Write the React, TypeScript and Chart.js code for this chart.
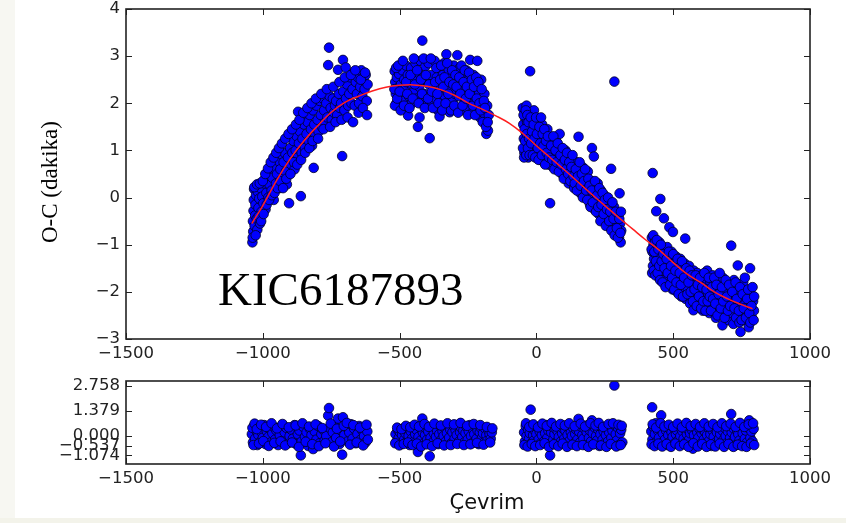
import React, { useEffect, useRef } from "react";
import { Chart, registerables } from "chart.js";
Chart.register(...registerables);

// ---------- data ----------
const xTickValues = [-1500, -1000, -500, 0, 500, 1000];
const ocTickValues = [-3, -2, -1, 0, 1, 2, 3, 4];
const resTickValues = [-1.074, -0.537, 0, 1.379, 2.758];

const fitCycle = [-1040, -1000, -950, -900, -850, -800, -750, -700, -650, -600, -550, -500, -450, -400, -350, -300, -250, -200, -150, -100, -50, 0, 50, 100, 150, 200, 250, 300, 350, 400, 450, 500, 550, 600, 650, 700, 750, 790];
const fitOC = [-0.55, -0.17, 0.36, 0.82, 1.2, 1.52, 1.81, 2.02, 2.15, 2.26, 2.34, 2.38, 2.39, 2.36, 2.29, 2.17, 2.01, 1.88, 1.74, 1.58, 1.36, 1.1, 0.85, 0.6, 0.34, 0.08, -0.17, -0.42, -0.66, -0.9, -1.12, -1.38, -1.62, -1.8, -2.0, -2.15, -2.27, -2.36];

const ocSeg1: [number, number][] = [
  [-1038, -0.95], [-1035, -0.72], [-1036, -0.5], [-1034, -0.28], [-1033, -0.05], [-1032, 0.18], [-1030, -0.6], [-1028, -0.38], [-1027, -0.15], [-1025, 0.05], [-1022, -0.45], [-1020, -0.68], [-1018, 0.12], [-1016, -0.22], [-1013, -0.02], [-1010, -0.55], [-1008, 0.2], [-1005, -0.3], [-1002, 0.02], [-998, -0.12], [-995, 0.3], [-993, 0.38], [-990, -0.25], [-987, 0.1], [-984, 0.45], [-980, 0.0], [-976, 0.28], [-972, 0.55], [-968, 0.15], [-965, 0.42], [-960, -0.05], [-956, 0.62], [-952, 0.3], [-948, 0.5], [-944, 0.78], [-940, 0.2], [-936, 0.6], [-932, 0.92], [-928, 0.4], [-924, 0.75], [-920, 0.95], [-916, 0.55], [-912, 0.28], [-908, 0.85], [-904, -0.12], [-900, 1.05], [-896, 0.7], [-892, 0.95], [-888, 1.2], [-884, 0.6], [-880, 1.0], [-876, 1.3], [-872, 0.85], [-871, 1.82], [-868, 1.15], [-864, 1.4], [-861, 0.03], [-858, 0.95], [-855, 1.25], [-850, 1.55], [-846, 1.05], [-841, 1.73], [-840, 1.35], [-836, 1.6], [-832, 1.2], [-828, 1.75], [-824, 1.45], [-820, 1.1], [-816, 1.85], [-814, 0.63], [-812, 1.55], [-808, 1.3], [-804, 1.95], [-800, 1.65], [-796, 1.4], [-792, 2.05], [-788, 1.75], [-784, 1.5], [-780, 2.1], [-776, 1.85], [-772, 1.6], [-768, 2.0], [-764, 1.7], [-761, 2.81], [-758, 3.18], [-756, 2.15], [-752, 1.9], [-748, 1.65], [-744, 2.1], [-740, 1.8], [-736, 1.95], [-732, 2.05], [-728, 1.75], [-725, 2.71], [-722, 2.2], [-718, 1.9], [-714, 2.0], [-710, 0.88], [-707, 2.92], [-706, 2.25], [-702, 1.85], [-697, 2.76], [-696, 2.1], [-692, 2.4], [-688, 1.95], [-684, 2.2], [-680, 2.55], [-676, 2.0], [-672, 2.3], [-668, 2.65], [-664, 1.95], [-660, 2.45], [-656, 2.2], [-652, 2.55], [-648, 2.0], [-644, 2.35], [-640, 2.7], [-636, 2.15], [-632, 2.5], [-628, 2.3], [-624, 2.6], [-620, 2.05], [-617, 2.4],
  [-1037, -0.85], [-1031, 0.22], [-1026, -0.8], [-1021, 0.28], [-1015, -0.4], [-1011, 0.3], [-1006, -0.5], [-1000, 0.35], [-997, -0.35], [-991, 0.5], [-986, -0.15], [-981, 0.62], [-977, -0.05], [-971, 0.75], [-967, 0.05], [-961, 0.85], [-957, 0.1], [-951, 0.95], [-946, 0.2], [-941, 1.05], [-937, 0.35], [-930, 1.15], [-926, 0.2], [-918, 1.25], [-914, 0.4], [-906, 1.35], [-899, 0.5], [-893, 1.45], [-886, 0.75], [-879, 1.55], [-874, 0.7], [-866, 1.65], [-860, 0.8], [-852, 1.8], [-845, 0.95], [-837, 1.9], [-830, 1.05], [-822, 2.0], [-818, 1.2], [-806, 2.1], [-798, 1.25], [-786, 2.2], [-778, 1.45], [-766, 2.3], [-754, 1.5], [-742, 2.35], [-734, 1.6], [-720, 2.45], [-712, 1.65], [-700, 2.55], [-690, 1.7], [-678, 2.6], [-670, 1.6], [-662, 2.7], [-650, 1.8], [-642, 2.5], [-634, 1.9], [-626, 2.65], [-619, 1.75],
];

const ocSeg2: [number, number][] = [
  [-518, 2.68], [-516, 2.45], [-514, 2.2], [-512, 2.0], [-510, 2.55], [-507, 2.32], [-504, 2.1], [-502, 2.62], [-498, 1.95], [-495, 2.4], [-492, 2.2], [-490, 2.7], [-486, 2.05], [-483, 2.5], [-480, 2.3], [-477, 2.8], [-474, 1.9], [-470, 2.6], [-469, 1.74], [-466, 2.15], [-462, 2.42], [-458, 2.75], [-455, 2.0], [-450, 2.55], [-446, 2.25], [-442, 2.85], [-438, 2.1], [-433, 1.5], [-432, 2.65], [-428, 2.35], [-427, 1.7], [-424, 2.9], [-420, 2.05], [-417, 3.33], [-415, 2.55], [-410, 2.2], [-406, 2.78], [-402, 1.95], [-398, 2.45], [-394, 2.85], [-390, 1.26], [-389, 2.15], [-385, 2.6], [-380, 2.0], [-376, 2.35], [-372, 2.9], [-368, 2.1], [-364, 2.55], [-360, 1.85], [-356, 2.75], [-354, 1.72], [-350, 2.3], [-346, 2.0], [-342, 2.6], [-338, 2.85], [-334, 2.15], [-329, 3.04], [-328, 2.45], [-324, 1.95], [-320, 2.7], [-317, 1.81], [-314, 2.3], [-310, 2.55], [-306, 2.05], [-302, 2.8], [-298, 2.2], [-294, 1.9], [-289, 3.02], [-288, 2.5], [-284, 2.15], [-280, 2.75], [-276, 1.85], [-272, 2.4], [-268, 2.6], [-264, 2.0], [-260, 2.3], [-256, 2.7], [-252, 1.9], [-248, 2.5], [-242, 2.92], [-241, 2.1], [-238, 2.35], [-234, 1.8], [-230, 2.6], [-226, 2.15], [-222, 2.4], [-216, 2.9], [-214, 1.95], [-210, 2.25], [-206, 1.7], [-202, 2.5], [-198, 2.05], [-194, 1.8], [-190, 2.2], [-186, 1.6], [-183, 1.35], [-180, 1.95], [-177, 1.42], [-174, 1.75],
  [-519, 2.3], [-517, 1.95], [-513, 2.75], [-509, 2.1], [-505, 2.8], [-500, 2.25], [-496, 1.85], [-488, 2.9], [-484, 1.95], [-476, 2.45], [-472, 2.2], [-464, 1.9], [-460, 2.6], [-452, 2.1], [-448, 2.95], [-444, 2.4], [-436, 2.7], [-430, 2.0], [-422, 2.5], [-418, 2.2], [-412, 2.95], [-408, 1.9], [-404, 2.6], [-396, 2.1], [-392, 2.4], [-386, 2.95], [-382, 2.25], [-378, 1.9], [-370, 2.45], [-366, 2.75], [-362, 2.2], [-358, 2.0], [-352, 2.5], [-348, 2.8], [-344, 1.85], [-340, 2.35], [-336, 2.55], [-332, 2.0], [-326, 2.85], [-322, 2.2], [-318, 2.45], [-312, 1.85], [-308, 2.7], [-304, 2.4], [-300, 1.95], [-296, 2.6], [-292, 2.35], [-286, 1.8], [-282, 2.55], [-278, 2.2], [-274, 2.8], [-270, 1.95], [-266, 2.45], [-262, 2.7], [-258, 2.1], [-254, 2.35], [-250, 1.75], [-246, 2.65], [-244, 2.2], [-236, 2.5], [-232, 1.95], [-228, 2.35], [-224, 1.75], [-220, 2.55], [-218, 2.1], [-212, 2.45], [-208, 2.0], [-204, 1.85], [-200, 2.3], [-196, 1.6], [-192, 2.05], [-188, 1.9], [-184, 1.5], [-178, 1.6],
];

const ocSeg3: [number, number][] = [
  [-50, 1.9], [-48, 1.55], [-46, 1.25], [-44, 0.95], [-42, 1.7], [-40, 1.4], [-38, 1.1], [-36, 1.95], [-34, 1.6], [-32, 1.3], [-30, 0.85], [-28, 1.5], [-26, 1.75], [-23, 2.68], [-22, 1.2], [-20, 1.45], [-18, 1.0], [-15, 1.65], [-12, 1.3], [-9, 1.85], [-6, 1.05], [-3, 1.5], [0, 1.25], [3, 0.95], [6, 1.6], [9, 1.15], [12, 1.4], [15, 0.8], [18, 1.25], [21, 1.55], [24, 1.0], [27, 0.75], [30, 1.3], [33, 1.1], [36, 0.9], [40, 1.45], [44, 0.7], [48, 1.15], [50, -0.12], [52, 0.95], [56, 1.25], [60, 0.65], [64, 1.05], [68, 0.85], [72, 1.2], [76, 0.6], [80, 0.95], [85, 1.35], [86, 0.75], [90, 1.05], [94, 0.5], [98, 0.85], [102, 0.65], [106, 1.0], [110, 0.45], [114, 0.8], [118, 0.3], [122, 0.6], [126, 0.85], [130, 0.4], [134, 0.7], [138, 0.2], [142, 0.5], [146, 0.75], [150, 0.3], [154, 1.29], [155, 0.55], [160, 0.1], [164, 0.4], [168, 0.65], [172, 0.2], [176, 0.45], [180, 0.0], [184, 0.3], [188, 0.55], [192, 0.1], [196, -0.15], [200, 0.35], [203, 1.05], [204, 0.0], [208, 0.2], [210, 0.87], [212, -0.25], [216, 0.1], [220, -0.1], [224, 0.3], [228, -0.35], [232, -0.05], [236, 0.15], [240, -0.45], [244, -0.2], [248, 0.05], [252, -0.3], [256, -0.55], [260, -0.1], [264, -0.4], [268, -0.15], [272, -0.65], [273, 0.61], [276, -0.3], [280, -0.5], [284, -0.2], [285, 2.46], [288, -0.75], [292, -0.45], [296, -0.6], [300, -0.35], [302, -0.85], [304, 0.09], [306, -0.55], [308, -0.95], [310, -0.7],
  [-49, 1.05], [-47, 1.75], [-45, 0.85], [-43, 1.45], [-41, 1.2], [-39, 1.85], [-37, 0.9], [-35, 1.35], [-33, 1.75], [-31, 1.05], [-29, 1.6], [-27, 1.25], [-25, 0.9], [-21, 1.7], [-19, 1.15], [-16, 1.4], [-13, 0.9], [-10, 1.55], [-7, 1.25], [-4, 0.85], [-1, 1.7], [2, 1.35], [5, 1.05], [8, 0.8], [11, 1.5], [14, 1.15], [17, 1.7], [20, 0.9], [23, 1.35], [26, 1.1], [29, 1.45], [32, 0.7], [35, 1.2], [38, 0.95], [42, 1.3], [46, 0.85], [54, 1.1], [58, 0.8], [62, 1.3], [66, 0.6], [70, 1.0], [74, 0.75], [78, 1.15], [82, 0.55], [88, 0.9], [92, 0.7], [96, 1.05], [100, 0.4], [104, 0.8], [108, 0.6], [112, 0.95], [116, 0.5], [120, 0.75], [124, 0.35], [128, 0.65], [132, 0.9], [136, 0.45], [140, 0.3], [144, 0.6], [148, 0.15], [152, 0.45], [158, 0.75], [162, 0.25], [166, 0.5], [170, 0.0], [174, 0.35], [178, 0.6], [182, 0.15], [186, -0.05], [190, 0.4], [194, 0.25], [198, -0.2], [202, 0.15], [206, -0.1], [214, 0.35], [218, -0.3], [222, 0.05], [226, -0.2], [230, 0.2], [234, -0.5], [238, -0.15], [242, 0.1], [246, -0.35], [250, -0.05], [254, -0.6], [258, -0.25], [262, 0.0], [266, -0.5], [270, -0.3], [274, -0.7], [278, -0.1], [282, -0.45], [286, -0.8], [290, -0.3], [294, -0.65], [298, -0.85], [303, -0.45], [307, -0.75], [309, -0.3],
];

const ocSeg4: [number, number][] = [
  [422, -0.85], [424, -1.15], [425, 0.52], [426, -1.45], [428, -1.0], [430, -1.3], [432, -1.6], [434, -0.9], [436, -1.2], [438, -0.29], [439, -1.5], [442, -1.05], [445, -1.35], [448, -1.7], [450, -0.95], [453, -0.03], [454, -1.25], [457, -1.55], [460, -1.1], [463, -1.4], [466, -0.44], [467, -1.75], [470, -1.2], [474, -1.5], [478, -1.05], [482, -1.85], [486, -0.63], [487, -1.3], [490, -1.6], [494, -1.15], [498, -1.95], [499, -0.73], [502, -1.4], [506, -1.7], [510, -1.25], [514, -2.0], [518, -1.5], [522, -1.8], [526, -1.3], [530, -2.1], [534, -1.6], [538, -1.9], [542, -1.4], [544, -0.87], [546, -2.15], [550, -1.7], [554, -1.95], [558, -1.45], [562, -2.25], [566, -1.75], [570, -2.0], [574, -2.39], [575, -1.55], [580, -1.85], [584, -2.1], [588, -1.6], [592, -2.3], [596, -1.9], [600, -2.15], [604, -1.65], [608, -2.4], [612, -2.0], [616, -1.75], [620, -2.25], [624, -1.55], [628, -2.05], [632, -2.45], [636, -1.8], [640, -2.2], [644, -1.65], [648, -2.35], [652, -1.95], [656, -2.55], [660, -2.1], [664, -1.75], [668, -2.4], [672, -2.0], [676, -2.25], [680, -2.71], [681, -1.7], [685, -2.5], [690, -2.05], [694, -1.8], [698, -2.35], [702, -2.6], [706, -2.15], [710, -1.9], [712, -1.02], [714, -2.45], [718, -2.25], [720, -2.68], [722, -1.75], [726, -2.05], [730, -2.55], [734, -2.3], [736, -1.44], [738, -1.95], [742, -2.65], [746, -2.85], [748, -2.15], [752, -2.4], [756, -1.8], [760, -2.6], [764, -2.25], [768, -2.0], [772, -2.5], [776, -2.75], [780, -2.3], [781, -1.5], [784, -2.05], [788, -2.55], [792, -2.2], [795, -2.4],
  [421, -1.1], [423, -1.6], [427, -0.8], [429, -1.55], [431, -1.15], [433, -0.95], [435, -1.65], [437, -1.35], [440, -0.9], [443, -1.6], [446, -1.1], [449, -1.45], [452, -1.75], [455, -1.0], [458, -1.35], [461, -1.8], [464, -1.2], [468, -1.5], [472, -1.9], [476, -1.3], [480, -1.6], [484, -1.15], [488, -1.85], [492, -1.45], [496, -1.7], [500, -1.2], [504, -1.95], [508, -1.55], [512, -1.8], [516, -1.3], [520, -2.05], [524, -1.6], [528, -1.85], [532, -1.35], [536, -2.1], [540, -1.7], [548, -1.5], [552, -2.05], [556, -1.8], [560, -1.55], [564, -2.0], [568, -1.65], [572, -2.2], [578, -1.95], [582, -1.65], [586, -2.3], [590, -1.85], [594, -2.1], [598, -1.7], [602, -2.35], [606, -1.9], [610, -2.2], [614, -1.6], [618, -2.4], [622, -1.95], [626, -2.2], [630, -1.7], [634, -2.1], [638, -2.4], [642, -1.9], [646, -2.15], [650, -1.7], [654, -2.25], [658, -1.85], [662, -2.5], [666, -2.05], [670, -1.6], [674, -2.35], [678, -1.9], [683, -2.2], [688, -2.55], [692, -1.75], [696, -2.1], [700, -2.4], [704, -1.85], [708, -2.3], [716, -2.0], [724, -2.35], [728, -1.8], [732, -2.15], [740, -2.4], [744, -1.9], [750, -2.6], [754, -2.05], [758, -2.35], [762, -1.7], [766, -2.55], [770, -2.15], [774, -1.95], [778, -2.45], [782, -2.65], [786, -2.3], [790, -1.9], [794, -2.6], [796, -2.1],
];

const resSeg1: [number, number][] = [
  [-1040, 0.1], [-1036, -0.35], [-1032, 0.55], [-1028, -0.15], [-1024, 0.3], [-1020, -0.5], [-1016, 0.05], [-1012, 0.45], [-1008, -0.3], [-1004, 0.2], [-1000, -0.1], [-995, 0.6], [-990, -0.45], [-985, 0.25], [-980, -0.05], [-975, 0.4], [-970, -0.35], [-965, 0.15], [-960, 0.5], [-955, -0.2], [-950, 0.3], [-944, -0.5], [-938, 0.05], [-932, 0.55], [-926, -0.25], [-920, 0.2], [-914, 0.45], [-908, -0.4], [-902, 0.0], [-896, 0.35], [-890, -0.15], [-884, 0.6], [-878, -0.45], [-872, 0.1], [-866, 0.3], [-861, -1.07], [-858, -0.3], [-852, 0.5], [-846, -0.05], [-840, 0.2], [-834, -0.55], [-828, 0.4], [-822, 0.05], [-816, -0.72], [-810, 0.25], [-804, -0.2], [-798, 0.55], [-792, -0.4], [-786, 0.1], [-780, 0.35], [-774, -0.25], [-768, 0.0], [-761, 1.12], [-758, 1.54], [-756, 0.45], [-750, -0.35], [-744, 0.2], [-738, 0.6], [-732, -0.1], [-725, 0.96], [-720, -0.45], [-714, 0.3], [-710, -1.03], [-707, 1.03], [-702, 0.05], [-696, 0.5], [-690, -0.3], [-684, 0.2], [-678, 0.65], [-672, -0.15], [-666, 0.4], [-660, -0.4], [-654, 0.1], [-648, 0.55], [-642, -0.2], [-636, 0.3], [-630, 0.0], [-624, -0.35], [-618, 0.25],
  [-1038, 0.45], [-1034, -0.5], [-1030, 0.68], [-1022, 0.38], [-1014, -0.42], [-1006, 0.62], [-998, -0.28], [-988, 0.5], [-978, -0.55], [-968, 0.7], [-958, -0.38], [-948, 0.42], [-935, -0.3], [-928, 0.66], [-918, -0.52], [-905, 0.48], [-893, -0.36], [-880, 0.58], [-868, -0.6], [-855, 0.7], [-843, -0.32], [-831, 0.52], [-819, -0.45], [-807, 0.64], [-795, -0.56], [-783, 0.44], [-771, -0.4], [-752, 0.68], [-740, -0.58], [-729, 0.4], [-717, -0.3], [-704, 0.56], [-693, 0.72], [-681, -0.48], [-669, 0.6], [-657, -0.36], [-645, 0.46], [-633, -0.52], [-621, 0.62], [-616, -0.2],
];

const resSeg2: [number, number][] = [
  [-515, 0.1], [-511, -0.3], [-507, 0.35], [-503, -0.1], [-499, 0.2], [-495, -0.45], [-491, 0.05], [-487, 0.4], [-483, -0.2], [-479, 0.15], [-475, -0.35], [-471, 0.3], [-467, 0.0], [-463, -0.5], [-459, 0.25], [-455, -0.15], [-451, 0.45], [-447, -0.3], [-443, 0.1], [-439, 0.35], [-433, -0.88], [-431, -0.05], [-427, 0.5], [-423, -0.25], [-417, 0.96], [-415, 0.2], [-411, -0.4], [-407, 0.05], [-403, 0.4], [-399, -0.2], [-395, 0.25], [-390, -1.12], [-387, -0.1], [-383, 0.45], [-379, -0.35], [-375, 0.15], [-371, 0.5], [-367, -0.05], [-363, 0.3], [-359, -0.45], [-355, 0.1], [-351, 0.55], [-347, -0.2], [-343, 0.25], [-339, 0.0], [-335, 0.45], [-331, -0.3], [-327, 0.15], [-323, 0.6], [-319, -0.1], [-315, 0.35], [-311, -0.4], [-307, 0.2], [-303, 0.55], [-299, -0.15], [-295, 0.3], [-291, 0.05], [-287, 0.6], [-283, -0.3], [-279, 0.2], [-275, 0.45], [-271, -0.05], [-267, 0.3], [-263, -0.35], [-259, 0.15], [-255, 0.5], [-251, -0.2], [-247, 0.25], [-243, 0.6], [-239, 0.0], [-235, -0.4], [-231, 0.35], [-227, 0.1], [-223, 0.55], [-219, -0.15], [-215, 0.3], [-211, -0.45], [-207, 0.2], [-203, 0.45], [-199, -0.1], [-195, 0.15], [-191, -0.35], [-187, 0.4], [-183, 0.05], [-179, -0.25], [-175, 0.3], [-171, 0.1], [-167, -0.15], [-163, 0.2],
  [-516, -0.4], [-509, 0.46], [-501, -0.52], [-493, 0.38], [-485, -0.44], [-477, 0.56], [-469, -0.36], [-461, 0.48], [-453, -0.5], [-445, 0.62], [-437, -0.42], [-429, 0.52], [-421, -0.58], [-409, 0.66], [-401, -0.46], [-393, 0.5], [-381, -0.56], [-373, 0.68], [-361, -0.4], [-349, 0.58], [-337, -0.52], [-325, 0.7], [-313, -0.5], [-301, 0.64], [-289, -0.44], [-277, 0.72], [-265, -0.5], [-253, 0.56], [-241, -0.46], [-229, 0.66], [-217, -0.38], [-205, 0.6], [-193, -0.48], [-181, 0.5], [-169, -0.36], [-161, 0.42],
];

const resSeg3: [number, number][] = [
  [-45, 0.2], [-42, -0.3], [-39, 0.55], [-36, 0.0], [-33, -0.45], [-30, 0.35], [-27, -0.15], [-24, 0.15], [-21, 1.45], [-18, -0.4], [-15, 0.45], [-12, 0.05], [-9, -0.25], [-6, 0.3], [-3, -0.5], [0, 0.1], [4, 0.5], [8, -0.2], [12, 0.25], [16, -0.4], [20, 0.05], [24, 0.4], [28, -0.3], [32, 0.15], [36, 0.6], [40, -0.1], [44, 0.3], [48, -0.45], [50, -1.07], [54, 0.2], [58, 0.5], [62, -0.2], [66, 0.1], [70, 0.4], [74, -0.35], [78, 0.25], [82, -0.05], [86, 0.55], [90, -0.3], [94, 0.15], [98, 0.4], [102, -0.15], [106, 0.3], [110, -0.45], [114, 0.05], [118, 0.5], [122, -0.25], [126, 0.2], [130, 0.0], [134, 0.45], [138, -0.4], [142, 0.1], [146, 0.35], [150, -0.2], [154, 0.94], [156, 0.25], [160, -0.35], [164, 0.5], [168, 0.05], [172, -0.15], [176, 0.4], [180, -0.5], [184, 0.2], [188, 0.6], [192, -0.1], [196, 0.3], [200, -0.3], [203, 0.86], [206, 0.15], [210, -0.45], [214, 0.45], [218, 0.0], [222, -0.25], [226, 0.35], [230, -0.55], [234, 0.1], [238, 0.5], [242, -0.2], [246, 0.25], [250, -0.4], [254, 0.05], [258, 0.4], [262, -0.3], [266, 0.2], [270, 0.6], [274, -0.1], [278, 0.3], [282, -0.45], [285, 2.78], [286, 0.6], [290, 0.1], [294, -0.25], [298, 0.45], [302, -0.5], [306, 0.15], [310, 0.35], [314, -0.35],
  [-44, -0.5], [-38, 0.7], [-32, -0.58], [-26, 0.5], [-17, -0.44], [-11, 0.64], [-4, -0.56], [6, 0.48], [14, -0.5], [22, 0.68], [30, -0.4], [38, 0.56], [46, -0.6], [56, 0.72], [64, -0.46], [72, 0.52], [80, -0.56], [88, 0.66], [96, -0.42], [104, 0.58], [112, -0.6], [120, 0.7], [132, -0.48], [140, 0.54], [148, -0.56], [162, 0.68], [170, -0.5], [178, 0.52], [190, -0.6], [198, 0.7], [208, -0.46], [216, 0.58], [228, 0.72], [236, -0.52], [244, 0.5], [256, -0.6], [264, 0.66], [272, -0.44], [280, 0.7], [292, -0.58], [300, 0.62], [308, -0.5], [312, 0.56],
];

const resSeg4: [number, number][] = [
  [420, 0.25], [423, 1.58], [424, -0.2], [427, 0.5], [430, -0.45], [433, 0.1], [436, 0.7], [440, -0.3], [444, 0.3], [448, -0.1], [452, 0.45], [456, 1.14], [458, -0.4], [462, 0.15], [466, 0.55], [470, -0.2], [474, 0.3], [478, -0.5], [482, 0.05], [486, 0.4], [490, -0.3], [494, 0.2], [498, -0.05], [502, 0.45], [506, -0.4], [510, 0.1], [514, 0.3], [518, -0.25], [522, 0.5], [526, 0.0], [530, -0.45], [534, 0.25], [538, -0.15], [542, 0.4], [546, -0.35], [550, 0.1], [554, 0.35], [558, -0.2], [562, 0.15], [566, -0.5], [570, 0.3], [572, -0.7], [576, 0.05], [580, 0.45], [584, -0.3], [588, 0.2], [592, -0.1], [596, 0.4], [600, -0.45], [604, 0.15], [608, 0.35], [612, -0.2], [616, 0.25], [620, -0.4], [624, 0.05], [628, 0.45], [632, -0.25], [636, 0.1], [640, -0.55], [644, 0.3], [648, -0.05], [652, 0.4], [656, -0.35], [660, 0.2], [664, 0.5], [668, -0.15], [672, 0.1], [676, -0.45], [680, 0.3], [684, -0.2], [688, 0.45], [692, 0.0], [696, -0.4], [700, 0.25], [704, 0.55], [708, -0.1], [712, 1.21], [714, 0.2], [718, -0.3], [722, 0.4], [726, -0.05], [730, -0.5], [734, 0.3], [738, 0.1], [742, -0.25], [746, 0.5], [750, -0.4], [754, 0.15], [758, 0.6], [762, -0.15], [766, 0.3], [770, -0.35], [774, 0.45], [778, 0.86], [782, -0.1], [786, 0.25], [790, -0.3], [794, 0.4],
  [421, -0.46], [425, 0.64], [432, -0.56], [438, 0.46], [446, -0.42], [454, 0.7], [460, -0.58], [468, 0.52], [476, -0.44], [484, 0.62], [492, -0.6], [500, 0.5], [508, -0.42], [516, 0.68], [524, -0.56], [532, 0.48], [540, -0.46], [548, 0.72], [556, -0.6], [564, 0.54], [574, -0.4], [582, 0.66], [590, -0.58], [598, 0.5], [606, -0.44], [614, 0.7], [622, -0.6], [630, 0.52], [638, -0.46], [646, 0.66], [654, -0.58], [662, 0.48], [670, -0.42], [678, 0.7], [686, -0.6], [694, 0.54], [702, -0.44], [710, 0.68], [720, -0.6], [728, 0.5], [736, -0.48], [744, 0.72], [752, -0.56], [760, 0.5], [768, -0.6], [776, 0.64], [784, -0.42], [792, 0.7], [796, -0.5],
];

// ---------- helpers ----------
const TICK_FONT = { family: "'DejaVu Sans', sans-serif", size: 16.5 };
const TICK_COLOR = "#222";
const minus = (s: string) => s.replace("-", "\u2212");

const framePlugin = {
  id: "mplFrame",
  afterDatasetsDraw(chart: any) {
    const { ctx, chartArea: a, scales } = chart;
    const xs = scales.x;
    const ys = scales.y;
    const L = 6;
    ctx.save();
    ctx.strokeStyle = "#222";
    ctx.lineWidth = 1;
    ctx.beginPath();
    xs.ticks.forEach((t: any) => {
      const p = Math.round(xs.getPixelForValue(t.value)) + 0.5;
      ctx.moveTo(p, a.bottom);
      ctx.lineTo(p, a.bottom - L);
      ctx.moveTo(p, a.top);
      ctx.lineTo(p, a.top + L);
    });
    ys.ticks.forEach((t: any) => {
      const p = Math.round(ys.getPixelForValue(t.value)) + 0.5;
      ctx.moveTo(a.left, p);
      ctx.lineTo(a.left + L, p);
      ctx.moveTo(a.right, p);
      ctx.lineTo(a.right - L, p);
    });
    ctx.stroke();
    ctx.lineWidth = 1.6;
    ctx.strokeRect(a.left, a.top, a.right - a.left, a.bottom - a.top);
    ctx.restore();
  },
};

const toPts = (arr: [number, number][]) => arr.map(([x, y]) => ({ x, y }));

const pointStyle = {
  backgroundColor: "#0000ff",
  borderColor: "#000022",
  borderWidth: 0.8,
  pointRadius: 4.8,
};

const zeroPad = (s: any) => {
  s.paddingTop = 0;
  s.paddingBottom = 0;
  s.paddingLeft = 0;
  s.paddingRight = 0;
};

function xScale(height: number, pad: number) {
  return {
    type: "linear" as const,
    min: -1500,
    max: 1000,
    afterBuildTicks: (s: any) => {
      s.ticks = xTickValues.map((v) => ({ value: v }));
    },
    afterFit: (s: any) => {
      s.height = height;
      zeroPad(s);
    },
    grid: { display: false, drawTicks: false },
    border: { display: false },
    ticks: {
      autoSkip: false,
      maxRotation: 0,
      padding: pad,
      color: TICK_COLOR,
      font: TICK_FONT,
      callback: (v: any) => minus(String(v)),
    },
  };
}

export default function App() {
  const topRef = useRef<HTMLCanvasElement>(null);
  const botRef = useRef<HTMLCanvasElement>(null);

  useEffect(() => {
    const top = new Chart(topRef.current as HTMLCanvasElement, {
      type: "scatter",
      data: {
        datasets: [
          {
            type: "line" as any,
            data: fitCycle.map((x, i) => ({ x, y: fitOC[i] })),
            borderColor: "#ff2020",
            borderWidth: 1.5,
            pointRadius: 0,
            fill: false,
            tension: 0.4,
            order: 0,
          } as any,
          {
            data: toPts([...ocSeg1, ...ocSeg2, ...ocSeg3, ...ocSeg4]),
            ...pointStyle,
            order: 1,
          } as any,
        ],
      },
      options: {
        animation: false,
        responsive: false,
        devicePixelRatio: 1,
        layout: { padding: { left: 0, top: 9, right: 36, bottom: 0 } },
        plugins: { legend: { display: false }, tooltip: { enabled: false } },
        scales: {
          x: xScale(26, 5) as any,
          y: {
            type: "linear",
            min: -3,
            max: 4,
            afterBuildTicks: (s: any) => {
              s.ticks = ocTickValues.map((v) => ({ value: v }));
            },
            afterFit: (s: any) => {
              s.width = 126;
              zeroPad(s);
            },
            grid: { display: false, drawTicks: false },
            border: { display: false },
            ticks: {
              autoSkip: false,
              padding: 6,
              color: TICK_COLOR,
              font: TICK_FONT,
              callback: (v: any) => minus(String(v)),
            },
          },
        },
      },
      plugins: [framePlugin],
    });

    const bot = new Chart(botRef.current as HTMLCanvasElement, {
      type: "scatter",
      data: {
        datasets: [
          {
            data: toPts([...resSeg1, ...resSeg2, ...resSeg3, ...resSeg4]),
            ...pointStyle,
          } as any,
        ],
      },
      options: {
        animation: false,
        responsive: false,
        devicePixelRatio: 1,
        layout: { padding: { left: 0, top: 11, right: 36, bottom: 0 } },
        plugins: { legend: { display: false }, tooltip: { enabled: false } },
        scales: {
          x: xScale(31, 5) as any,
          y: {
            type: "linear",
            min: -1.544,
            max: 3.03,
            afterBuildTicks: (s: any) => {
              s.ticks = resTickValues.map((v) => ({ value: v }));
            },
            afterFit: (s: any) => {
              s.width = 126;
              zeroPad(s);
            },
            grid: { display: false, drawTicks: false },
            border: { display: false },
            ticks: {
              autoSkip: false,
              padding: 6,
              color: TICK_COLOR,
              font: TICK_FONT,
              callback: (v: any) => minus(Number(v).toFixed(3)),
            },
          },
        },
      },
      plugins: [framePlugin],
    });

    return () => {
      top.destroy();
      bot.destroy();
    };
  }, []);

  return (
    <div
      style={{
        position: "absolute",
        left: 0,
        top: 0,
        width: 846,
        height: 523,
        background: "#ffffff",
        overflow: "hidden",
      }}
    >
      <div style={{ position: "absolute", left: 0, top: 0, width: 15, height: 523, background: "#f7f7f2" }} />
      <div style={{ position: "absolute", left: 0, top: 518, width: 846, height: 5, background: "#f3f3ea" }} />
      <canvas
        ref={topRef}
        width={846}
        height={365}
        style={{ position: "absolute", left: 0, top: 0, width: 846, height: 365 }}
      />
      <canvas
        ref={botRef}
        width={846}
        height={125}
        style={{ position: "absolute", left: 0, top: 370, width: 846, height: 125 }}
      />
      <div
        style={{
          position: "absolute",
          left: 50,
          top: 182,
          transform: "translate(-50%, -50%) rotate(-90deg)",
          fontFamily: "'Liberation Serif', serif",
          fontSize: 23,
          color: "#000",
          whiteSpace: "nowrap",
        }}
      >
        O-C (dakika)
      </div>
      <div
        style={{
          position: "absolute",
          left: 218,
          top: 263,
          fontFamily: "'Liberation Serif', serif",
          fontSize: 47,
          lineHeight: "52px",
          color: "#000",
          whiteSpace: "nowrap",
        }}
      >
        KIC6187893
      </div>
      <div
        style={{
          position: "absolute",
          left: 487,
          top: 502,
          transform: "translate(-50%, -50%)",
          fontFamily: "'DejaVu Sans', sans-serif",
          fontSize: 21,
          color: "#111",
          whiteSpace: "nowrap",
        }}
      >
        Çevrim
      </div>
    </div>
  );
}
